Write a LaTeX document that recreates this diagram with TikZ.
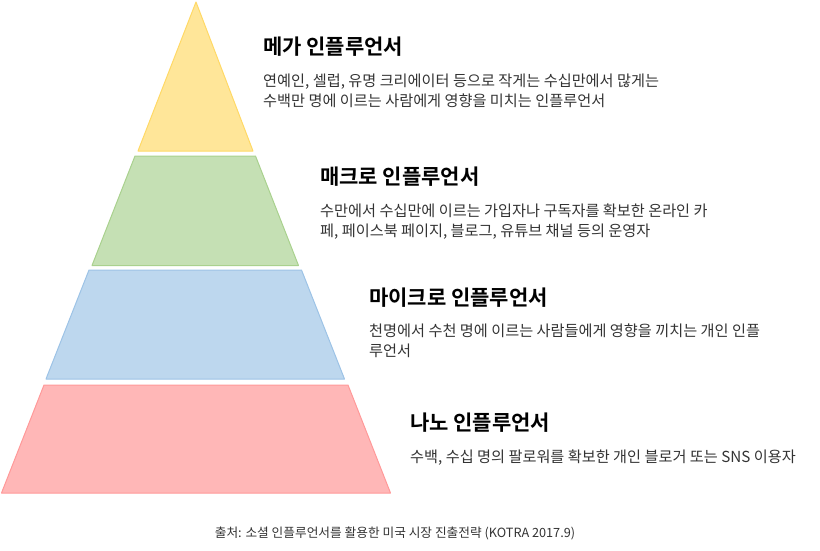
\documentclass[tikz,border=0pt]{standalone}
\usepackage{fontspec}
\setmainfont{Noto Sans CJK KR}[BoldFont={Noto Sans CJK KR Bold}]
\usepackage{tikz}

\definecolor{megafill}{HTML}{FFE699}
\definecolor{megaline}{HTML}{FFD966}
\definecolor{macrofill}{HTML}{C5E0B4}
\definecolor{macroline}{HTML}{A9D18E}
\definecolor{microfill}{HTML}{BDD7EE}
\definecolor{microline}{HTML}{9DC3E6}
\definecolor{nanofill}{HTML}{FFB7B7}
\definecolor{nanoline}{HTML}{FF9999}
\definecolor{textgray}{HTML}{333333}

\tikzset{
  layer/.style={line width=1pt,line join=round},
  title/.style={anchor=base west,inner sep=0pt,font=\fontsize{21}{25}\selectfont\bfseries},
  desc/.style={anchor=base west,inner sep=0pt,align=left,text=textgray,
    font=\fontsize{15.2}{19.8}\selectfont},
  source/.style={anchor=base,inner sep=0pt,text=textgray,font=\fontsize{12.7}{15}\selectfont}
}

\begin{document}
\begin{tikzpicture}[x=1pt,y=-1pt]
        \useasboundingbox (0,0) rectangle (820,550);
        % pyramid layers, top to bottom
        \foreach \f/\d/\yt/\xtl/\xtr/\yb/\xbl/\xbr in {%
          megafill/megaline/2/196/196/151/138/253,
          macrofill/macroline/156/135/255.5/265.5/92/298.5,
          microfill/microline/270/89/301.5/379/46/344.5,
          nanofill/nanoline/385/44/348/493/1.5/390.5} {
            \draw[layer,fill=\f,draw=\d]
            (\xtl,\yt) -- (\xtr,\yt) -- (\xbr,\yb) -- (\xbl,\yb) -- cycle;
        }
        % texts (two-line nodes sit on the baseline of their last line)
        \node[title] (mega-title) at (263,54) {메가 인플루언서};
        \node[desc] (mega-text) at (263,106.5)
          {연예인, 셀럽, 유명 크리에이터 등으로 작게는 수십만에서 많게는\\
           수백만 명에 이르는 사람에게 영향을 미치는 인플루언서};
        \node[title] (macro-title) at (320,184.5) {매크로 인플루언서};
        \node[desc] (macro-text) at (320,236)
          {수만에서 수십만에 이르는 가입자나 구독자를 확보한 온라인 카\\
           페, 페이스북 페이지, 블로그, 유튜브 채널 등의 운영자};
        \node[title] (micro-title) at (369,305.5) {마이크로 인플루언서};
        \node[desc] (micro-text) at (369,356)
          {천명에서 수천 명에 이르는 사람들에게 영향을 끼치는 개인 인플\\
           루언서};
        \node[title] (nano-title) at (410,430.5) {나노 인플루언서};
        \node[desc] (nano-text) at (410,462)
          {수백, 수십 명의 팔로워를 확보한 개인 블로거 또는 SNS 이용자};
        \node[source] (source) at (395,537.5)
          {출처: 소셜 인플루언서를 활용한 미국 시장 진출전략 (KOTRA 2017.9)};
\end{tikzpicture}
\end{document}
